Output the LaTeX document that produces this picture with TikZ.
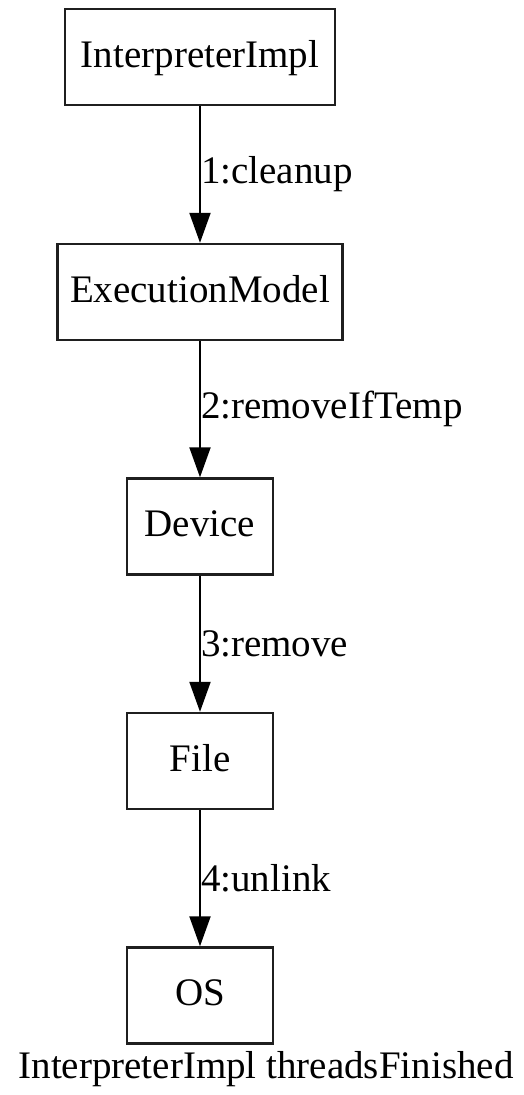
\documentclass[tikz,border=0pt]{standalone}
\usepackage{fontspec}
\setmainfont{Liberation Serif}
\usetikzlibrary{arrows.meta}
\begin{document}
\begin{tikzpicture}[x=1pt,y=-1pt,
  every node/.style={font=\fontsize{39}{46}\selectfont},
  objbox/.style={draw=black!88, line width=2.4pt, minimum height=96pt,
    inner sep=0pt, text height=26pt, text depth=6pt},
  msg/.style={draw=black, line width=2pt,
    -{Triangle[length=30pt,width=21pt]}},
  msglabel/.style={midway, right, inner sep=0pt}
]
\useasboundingbox (0,0) rectangle (524,1095);

\node[objbox, minimum width=270pt] (interp) at (200,57) {InterpreterImpl};
\node[objbox, minimum width=285pt] (exec)   at (200,292) {ExecutionModel};
\node[objbox, minimum width=146pt] (device) at (200,526.5) {Device};
\node[objbox, minimum width=146pt] (file)   at (200,761) {File};
\node[objbox, minimum width=146pt] (os)     at (200,995.5) {OS};

\draw[msg] (interp) -- (exec)   node[msglabel] {1:cleanup};
\draw[msg] (exec)   -- (device) node[msglabel] {2:removeIfTemp};
\draw[msg] (device) -- (file)   node[msglabel] {3:remove};
\draw[msg] (file)   -- (os)     node[msglabel] {4:unlink};

\node[anchor=base, inner sep=0pt] (caption) at (266,1078) {InterpreterImpl threadsFinished};
\end{tikzpicture}
\end{document}
